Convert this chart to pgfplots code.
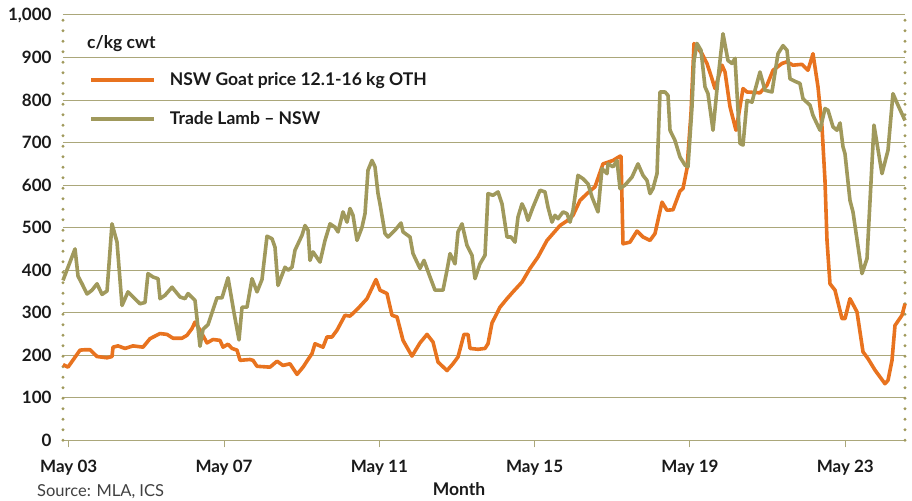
\documentclass[border=0pt]{standalone}
\usepackage{fontspec}
\setmainfont{Lato}
\usepackage{pgfplots}
\pgfplotsset{compat=1.18}
\definecolor{goat}{HTML}{E8731F}
\definecolor{lamb}{HTML}{A0995C}
\definecolor{gridc}{HTML}{ABA77A}
\definecolor{txt}{HTML}{1A1A1A}
\begin{document}
\begin{tikzpicture}
\useasboundingbox (-63pt,-60pt) rectangle (849pt,440.3pt);
\begin{axis}[
  at={(0,0)}, anchor=south west,
  scale only axis, width=842pt, height=425.3pt,
  xmin=2003.186, xmax=2024.871, ymin=0, ymax=1000,
  separate axis lines,
  x axis line style={gridc, line width=1pt},
  y axis line style={lamb, line width=3.2pt, line cap=round, dash pattern=on 0pt off 10.5pt},
  ymajorgrids, grid style={gridc, line width=1pt},
  xtick={2003.333,2007.333,2011.333,2015.333,2019.333,2023.333},
  xticklabels={May 03,May 07,May 11,May 15,May 19,May 23},
  ytick={0,100,...,1000},
  /pgf/number format/1000 sep={,},
  /pgf/number format/assume math mode=true,
  tick align=outside, major tick length=7pt,
  xtick style={gridc, line width=1pt},
  ytick style={draw=none},
  xtick pos=bottom, ytick pos=left,
  ticklabel style={font=\fontsize{17}{20}\selectfont\bfseries, text=txt},
  xticklabel style={yshift=-9pt},
  yticklabel style={xshift=-1pt},
  clip=false,
  legend style={draw=none, fill=none, at={(0.031,0.87)}, anchor=north west,
    font=\fontsize{17.5}{21}\selectfont\bfseries, text=txt,
    inner sep=0pt, row sep=21pt, legend cell align=left,
    /tikz/every odd column/.append style={column sep=12pt}},
  legend image code/.code={\draw[#1, line width=3.6pt] (0pt,0pt) -- (63pt,0pt);},
]
\addplot[goat, line width=3.6pt, line join=round] coordinates {
(2003.186,178)(2003.315,172)(2003.624,212)(2003.753,213)(2003.882,213)(2004.062,197)
(2004.320,194)(2004.448,197)(2004.474,219)(2004.603,222)(2004.783,216)(2004.989,222)
(2005.247,219)(2005.427,239)(2005.685,251)(2005.865,249)(2006.019,240)(2006.251,240)
(2006.380,247)(2006.509,263)(2006.586,278)(2006.715,259)(2006.895,229)(2007.049,237)
(2007.230,235)(2007.307,219)(2007.436,226)(2007.539,216)(2007.668,212)(2007.745,188)
(2008.002,190)(2008.080,188)(2008.183,174)(2008.517,172)(2008.698,186)(2008.852,176)
(2009.032,180)(2009.213,155)(2009.367,172)(2009.599,204)(2009.676,227)(2009.882,219)
(2009.985,243)(2010.114,243)(2010.243,259)(2010.449,294)(2010.578,292)(2010.784,310)
(2011.015,333)(2011.247,378)(2011.350,353)(2011.530,345)(2011.659,294)(2011.788,290)
(2011.943,235)(2012.174,198)(2012.380,229)(2012.561,249)(2012.715,231)(2012.844,184)
(2013.076,164)(2013.230,180)(2013.359,196)(2013.513,249)(2013.616,249)(2013.668,216)
(2013.874,214)(2014.054,216)(2014.132,227)(2014.235,276)(2014.441,313)(2014.621,333)
(2014.775,349)(2015.007,372)(2015.213,404)(2015.419,431)(2015.651,470)(2015.805,486)
(2015.986,505)(2016.166,516)(2016.321,529)(2016.501,564)(2016.681,580)(2016.887,596)
(2017.093,650)(2017.222,654)(2017.351,658)(2017.531,668)(2017.557,668)(2017.608,462)
(2017.788,466)(2017.969,492)(2018.123,478)(2018.304,470)(2018.432,486)(2018.613,560)
(2018.741,541)(2018.896,542)(2019.076,586)(2019.153,592)(2019.256,639)(2019.359,768)
(2019.437,933)(2019.643,909)(2019.771,886)(2019.900,850)(2019.977,827)(2020.158,882)
(2020.235,866)(2020.364,784)(2020.518,729)(2020.621,784)(2020.699,827)(2020.802,819)
(2021.136,817)(2021.317,835)(2021.471,870)(2021.703,886)(2021.832,890)(2021.986,882)
(2022.218,884)(2022.372,870)(2022.501,909)(2022.630,831)(2022.733,737)(2022.810,611)
(2022.862,470)(2022.939,368)(2023.068,353)(2023.248,286)(2023.325,286)(2023.454,333)
(2023.634,302)(2023.789,208)(2023.918,192)(2024.098,165)(2024.355,133)(2024.433,141)
(2024.536,188)(2024.613,270)(2024.793,294)(2024.871,321)
};
\addlegendentry{NSW Goat price 12.1-16 kg OTH}
\addplot[lamb, line width=3.6pt, line join=round] coordinates {
(2003.186,376)(2003.315,407)(2003.496,450)(2003.573,386)(2003.676,368)(2003.805,344)
(2003.933,353)(2004.062,368)(2004.191,343)(2004.320,351)(2004.448,509)(2004.577,466)
(2004.706,317)(2004.860,349)(2005.169,321)(2005.298,324)(2005.375,392)(2005.504,384)
(2005.633,380)(2005.685,333)(2005.813,341)(2005.994,360)(2006.200,337)(2006.328,333)
(2006.406,345)(2006.586,329)(2006.715,221)(2006.792,261)(2006.921,272)(2007.152,335)
(2007.281,335)(2007.436,382)(2007.590,300)(2007.719,236)(2007.796,313)(2007.925,313)
(2008.054,380)(2008.183,349)(2008.311,378)(2008.440,480)(2008.569,474)(2008.646,454)
(2008.723,364)(2008.904,407)(2008.981,400)(2009.084,407)(2009.161,447)(2009.341,482)
(2009.419,505)(2009.496,494)(2009.547,423)(2009.625,443)(2009.805,419)(2009.934,470)
(2010.063,509)(2010.191,501)(2010.269,490)(2010.397,537)(2010.500,513)(2010.578,545)
(2010.655,529)(2010.758,470)(2010.887,501)(2010.964,533)(2011.041,635)(2011.144,658)
(2011.221,643)(2011.299,580)(2011.350,556)(2011.479,486)(2011.556,478)(2011.736,494)
(2011.891,511)(2011.943,490)(2012.123,478)(2012.200,439)(2012.380,404)(2012.483,423)
(2012.638,384)(2012.767,353)(2012.973,353)(2013.076,400)(2013.153,439)(2013.282,415)
(2013.359,490)(2013.462,509)(2013.591,458)(2013.719,435)(2013.797,380)(2013.925,415)
(2014.054,435)(2014.132,580)(2014.260,576)(2014.389,584)(2014.492,556)(2014.621,478)
(2014.724,478)(2014.827,466)(2014.904,525)(2015.007,556)(2015.084,541)(2015.162,517)
(2015.290,548)(2015.471,588)(2015.599,584)(2015.677,548)(2015.780,513)(2015.857,529)
(2015.934,521)(2016.063,537)(2016.166,533)(2016.243,513)(2016.321,541)(2016.449,623)
(2016.578,615)(2016.707,603)(2016.810,572)(2016.964,537)(2017.067,639)(2017.196,627)
(2017.222,650)(2017.351,643)(2017.454,658)(2017.531,592)(2017.660,600)(2017.840,619)
(2017.994,650)(2018.123,623)(2018.226,611)(2018.304,580)(2018.381,592)(2018.484,627)
(2018.561,819)(2018.690,819)(2018.767,811)(2018.819,729)(2018.947,705)(2019.076,666)
(2019.205,647)(2019.282,643)(2019.385,784)(2019.437,893)(2019.514,933)(2019.617,917)
(2019.720,831)(2019.797,815)(2019.926,729)(2020.055,850)(2020.183,956)(2020.312,893)
(2020.415,886)(2020.493,898)(2020.570,776)(2020.621,698)(2020.699,694)(2020.802,799)
(2020.930,795)(2021.008,823)(2021.136,866)(2021.265,823)(2021.445,819)(2021.600,909)
(2021.729,928)(2021.832,917)(2021.909,850)(2022.038,844)(2022.166,839)(2022.244,803)
(2022.424,788)(2022.501,764)(2022.681,729)(2022.810,780)(2022.888,776)(2023.016,737)
(2023.119,729)(2023.197,746)(2023.274,690)(2023.325,674)(2023.454,564)(2023.531,537)
(2023.763,392)(2023.892,427)(2024.072,741)(2024.278,627)(2024.433,682)(2024.561,815)
(2024.690,788)(2024.871,752)
};
\addlegendentry{Trade Lamb -- NSW}
\node[anchor=west, font=\fontsize{17.5}{21}\selectfont\bfseries, text=txt, inner sep=0pt]
  at (rel axis cs:0.0285,0.9335) {c/kg cwt};
\end{axis}
\node[anchor=center, font=\fontsize{17.5}{21}\selectfont\bfseries, text=txt, inner sep=0pt]
  at (396pt,-49pt) {Month};
\node[anchor=west, font=\fontsize{16.5}{20}\selectfont, text=black!75, inner sep=0pt]
  at (-26pt,-51pt) {Source: MLA, ICS};
\end{tikzpicture}
\end{document}
